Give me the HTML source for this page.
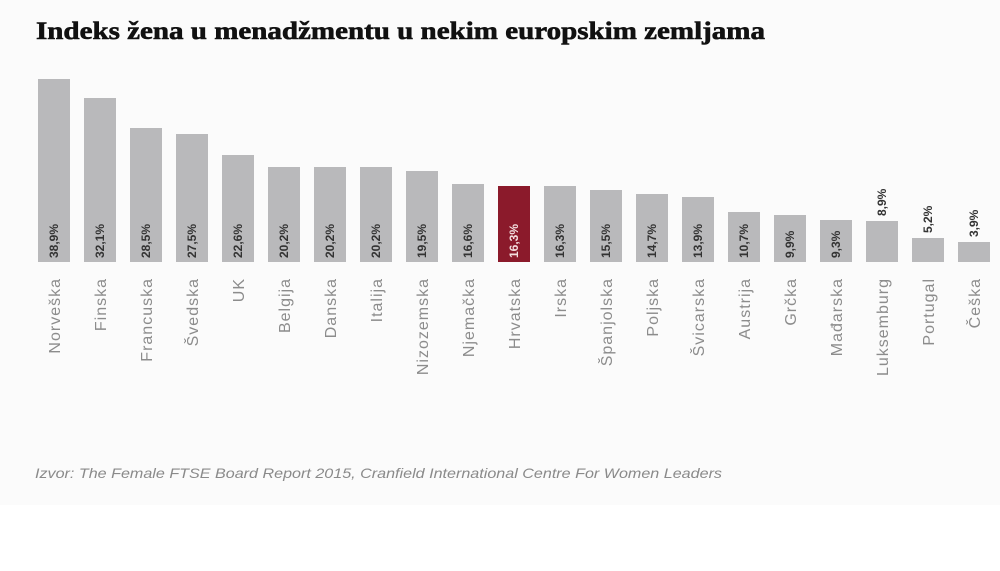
<!DOCTYPE html>
<html><head><meta charset="utf-8"><style>
html,body{margin:0;padding:0;background:#fff;}
svg{display:block}
</style></head><body>
<svg width="1000" height="571" viewBox="0 0 1000 571" xmlns="http://www.w3.org/2000/svg">
<rect x="0" y="0" width="1000" height="505" fill="#fbfbfb"/>
<rect x="0" y="505" width="1000" height="66" fill="#ffffff"/>
<text x="36" y="39" font-family="Liberation Serif, serif" font-weight="bold" font-size="25" fill="#111" stroke="#111" stroke-width="0.6" textLength="729" lengthAdjust="spacingAndGlyphs">Indeks žena u menadžmentu u nekim europskim zemljama</text>
<text x="35" y="478" font-family="Liberation Sans, sans-serif" font-style="italic" font-size="14" fill="#8a8a8a" textLength="687" lengthAdjust="spacingAndGlyphs">Izvor: The Female FTSE Board Report 2015, Cranfield International Centre For Women Leaders</text>
<g font-family="Liberation Sans, sans-serif">
<rect x="38" y="79" width="32" height="183" fill="#b9b9bb"/>
<rect x="84" y="98" width="32" height="164" fill="#b9b9bb"/>
<rect x="130" y="128" width="32" height="134" fill="#b9b9bb"/>
<rect x="176" y="134" width="32" height="128" fill="#b9b9bb"/>
<rect x="222" y="155" width="32" height="107" fill="#b9b9bb"/>
<rect x="268" y="167" width="32" height="95" fill="#b9b9bb"/>
<rect x="314" y="167" width="32" height="95" fill="#b9b9bb"/>
<rect x="360" y="167" width="32" height="95" fill="#b9b9bb"/>
<rect x="406" y="171" width="32" height="91" fill="#b9b9bb"/>
<rect x="452" y="184" width="32" height="78" fill="#b9b9bb"/>
<rect x="498" y="186" width="32" height="76" fill="#8b1a2b"/>
<rect x="544" y="186" width="32" height="76" fill="#b9b9bb"/>
<rect x="590" y="190" width="32" height="72" fill="#b9b9bb"/>
<rect x="636" y="194" width="32" height="68" fill="#b9b9bb"/>
<rect x="682" y="197" width="32" height="65" fill="#b9b9bb"/>
<rect x="728" y="212" width="32" height="50" fill="#b9b9bb"/>
<rect x="774" y="215" width="32" height="47" fill="#b9b9bb"/>
<rect x="820" y="220" width="32" height="42" fill="#b9b9bb"/>
<rect x="866" y="221" width="32" height="41" fill="#b9b9bb"/>
<rect x="912" y="238" width="32" height="24" fill="#b9b9bb"/>
<rect x="958" y="242" width="32" height="20" fill="#b9b9bb"/>
<g font-size="12" fill="#333" font-weight="bold">
<text transform="translate(58,258) rotate(-90)">38,9%</text>
<text transform="translate(104,258) rotate(-90)">32,1%</text>
<text transform="translate(150,258) rotate(-90)">28,5%</text>
<text transform="translate(196,258) rotate(-90)">27,5%</text>
<text transform="translate(242,258) rotate(-90)">22,6%</text>
<text transform="translate(288,258) rotate(-90)">20,2%</text>
<text transform="translate(334,258) rotate(-90)">20,2%</text>
<text transform="translate(380,258) rotate(-90)">20,2%</text>
<text transform="translate(426,258) rotate(-90)">19,5%</text>
<text transform="translate(472,258) rotate(-90)">16,6%</text>
<text transform="translate(518,258) rotate(-90)" fill="#f3dede">16,3%</text>
<text transform="translate(564,258) rotate(-90)">16,3%</text>
<text transform="translate(610,258) rotate(-90)">15,5%</text>
<text transform="translate(656,258) rotate(-90)">14,7%</text>
<text transform="translate(702,258) rotate(-90)">13,9%</text>
<text transform="translate(748,258) rotate(-90)">10,7%</text>
<text transform="translate(794,258) rotate(-90)">9,9%</text>
<text transform="translate(840,258) rotate(-90)">9,3%</text>
<text transform="translate(886,216) rotate(-90)">8,9%</text>
<text transform="translate(932,233) rotate(-90)">5,2%</text>
<text transform="translate(978,237) rotate(-90)">3,9%</text>
</g>
<g font-size="16" fill="#8c8c8c" text-anchor="end" letter-spacing="1">
<text transform="translate(60,278) rotate(-90)">Norveška</text>
<text transform="translate(106,278) rotate(-90)">Finska</text>
<text transform="translate(152,278) rotate(-90)">Francuska</text>
<text transform="translate(198,278) rotate(-90)">Švedska</text>
<text transform="translate(244,278) rotate(-90)">UK</text>
<text transform="translate(290,278) rotate(-90)">Belgija</text>
<text transform="translate(336,278) rotate(-90)">Danska</text>
<text transform="translate(382,278) rotate(-90)">Italija</text>
<text transform="translate(428,278) rotate(-90)">Nizozemska</text>
<text transform="translate(474,278) rotate(-90)">Njemačka</text>
<text transform="translate(520,278) rotate(-90)">Hrvatska</text>
<text transform="translate(566,278) rotate(-90)">Irska</text>
<text transform="translate(612,278) rotate(-90)">Španjolska</text>
<text transform="translate(658,278) rotate(-90)">Poljska</text>
<text transform="translate(704,278) rotate(-90)">Švicarska</text>
<text transform="translate(750,278) rotate(-90)">Austrija</text>
<text transform="translate(796,278) rotate(-90)">Grčka</text>
<text transform="translate(842,278) rotate(-90)">Mađarska</text>
<text transform="translate(888,278) rotate(-90)">Luksemburg</text>
<text transform="translate(934,278) rotate(-90)">Portugal</text>
<text transform="translate(980,278) rotate(-90)">Češka</text>
</g>
</g>
</svg>
</body></html>
